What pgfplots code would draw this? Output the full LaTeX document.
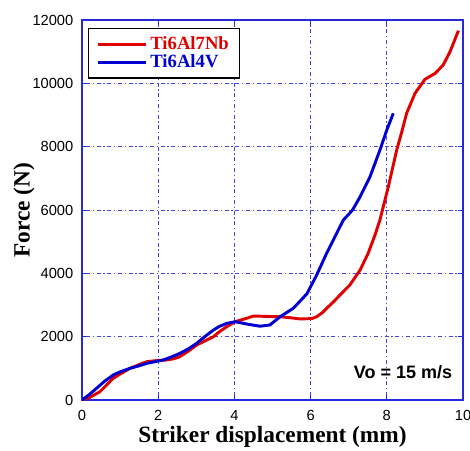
\documentclass[border=0pt]{standalone}
\usepackage{fontspec}
\setmainfont{Liberation Serif}
\newfontfamily\arial{Liberation Sans}
\usepackage{pgfplots}
\pgfplotsset{compat=1.18}
\definecolor{curvered}{RGB}{225,0,0}
\definecolor{curveblue}{RGB}{0,0,210}
\definecolor{gridblue}{RGB}{70,70,225}
\definecolor{frameblue}{RGB}{40,40,220}

\begin{document}
\begin{tikzpicture}
\useasboundingbox (-61.5pt,-37.5pt) rectangle (291pt,300pt);
\begin{axis}[
  at={(0pt,0pt)}, anchor=south west,
  scale only axis, width=285.75pt, height=285pt,
  xmin=0, xmax=10, ymin=0, ymax=12000,
  xtick={0,2,...,10}, ytick={0,2000,...,12000},
  scaled y ticks=false,
  /pgf/number format/set thousands separator={},
  /pgf/number format/assume math mode=true,
  tick label style={font=\arial\fontsize{11}{13}\selectfont},
  xticklabel style={yshift=-4pt},
  yticklabel style={xshift=-3pt},
  tick align=inside, tick pos=both, major tick length=4pt,
  axis line style={frameblue, line width=0.9pt},
  every tick/.style={frameblue, line width=0.6pt},
  grid=major,
  major grid style={gridblue, dash pattern=on 1pt off 2pt on 3pt off 2pt, line width=0.5pt},
  xlabel={\textbf{Striker displacement (mm)}},
  ylabel={\textbf{Force (N)}},
  label style={font=\fontsize{17.5}{20}\selectfont},
  xlabel style={at={(axis description cs:0.5,0)}, anchor=center, yshift=-27.75pt},
  ylabel style={at={(axis description cs:0,0.5)}, anchor=center, yshift=43.5pt},
  legend style={at={(axis description cs:0.016,0.979)}, anchor=north west,
    draw=black, line width=1pt, fill=white,
    font=\bfseries\fontsize{14}{14}\selectfont,
    cells={anchor=west}, row sep=-1.5pt, inner xsep=6pt, inner ysep=4pt},
  legend image code/.code={\draw[#1] (0pt,0pt) -- (36pt,0pt);},
]
\addplot[curvered, line width=2.2pt, line join=round] coordinates {
(0,0) (0.2,80) (0.47,262) (0.65,480) (0.82,685) (1.0,820) (1.26,1000)
(1.5,1120) (1.7,1210) (2.0,1250) (2.22,1263) (2.4,1300) (2.57,1368)
(2.8,1550) (3.01,1737) (3.2,1850) (3.45,2000) (3.6,2150) (3.8,2315)
(4.02,2473) (4.32,2580) (4.5,2652) (4.85,2640) (5.2,2630) (5.45,2600)
(5.72,2560) (6.03,2570) (6.16,2630) (6.3,2750) (6.42,2895) (6.6,3100)
(6.77,3315) (7.03,3631) (7.3,4105) (7.51,4632) (7.69,5210) (7.82,5690)
(8.04,6736) (8.26,7895) (8.4,8500) (8.52,9053) (8.74,9684) (9.0,10126)
(9.27,10316) (9.48,10579) (9.66,11000) (9.88,11663)
};
\addlegendentry{\textcolor{curvered}{Ti6Al7Nb}}
\addplot[curveblue, line width=2.2pt, line join=round] coordinates {
(0,0) (0.2,180) (0.38,368) (0.6,600) (0.82,790) (1.0,890) (1.26,1000)
(1.5,1080) (1.7,1158) (2.13,1263) (2.35,1360) (2.57,1474) (2.8,1620)
(3.01,1790) (3.2,1980) (3.45,2210) (3.6,2320) (3.8,2421) (4.02,2473)
(4.32,2400) (4.67,2330) (4.93,2368) (5.2,2630) (5.55,2900) (5.9,3350)
(6.16,3947) (6.42,4632) (6.64,5158) (6.86,5684) (6.95,5800) (7.1,6000)
(7.3,6420) (7.56,7052) (7.82,7895) (8.0,8526) (8.17,9053)
};
\addlegendentry{\textcolor{curveblue}{Ti6Al4V}}
\node[anchor=east, font=\arial\bfseries\fontsize{13.5}{15}\selectfont]
  at (axis description cs:0.984,0.074) {Vo = 15 m/s};
\end{axis}
\end{tikzpicture}
\end{document}
